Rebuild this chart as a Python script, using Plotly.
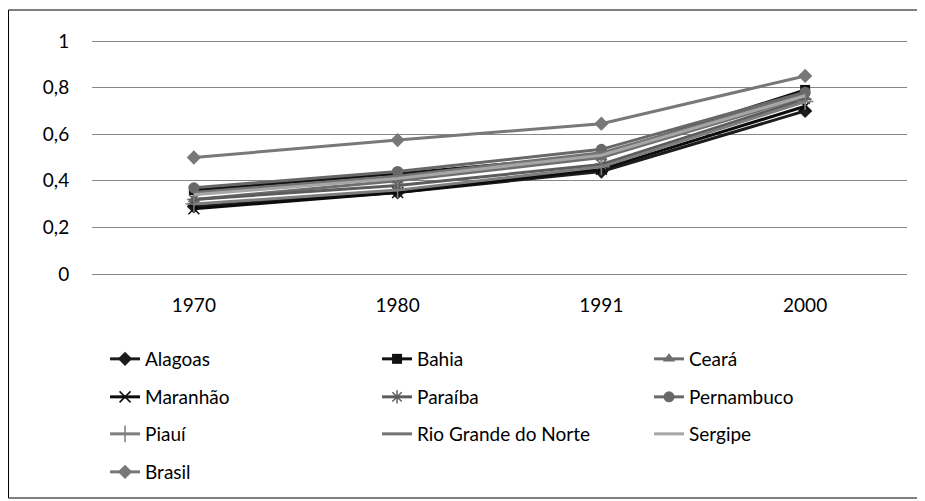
import plotly.graph_objects as go

years = ["1970", "1980", "1991", "2000"]

alagoas = [0.29, 0.35, 0.44, 0.70]
bahia = [0.36, 0.43, 0.51, 0.79]
ceara = [0.32, 0.40, 0.50, 0.76]
maranhao = [0.28, 0.35, 0.45, 0.72]
paraiba = [0.32, 0.38, 0.47, 0.75]
pernambuco = [0.37, 0.44, 0.535, 0.78]
piaui = [0.30, 0.36, 0.46, 0.74]
rio_grande_do_norte = [0.35, 0.42, 0.52, 0.77]
sergipe = [0.34, 0.41, 0.51, 0.765]
brasil = [0.50, 0.575, 0.645, 0.85]

y_ticks = [0, 0.2, 0.4, 0.6, 0.8, 1]

series = [
    ("Alagoas", alagoas, "#1c1c1c", "diamond", 11, "legend"),
    ("Bahia", bahia, "#111111", "square", 10, "legend"),
    ("Ceará", ceara, "#6e6e6e", "triangle-up", 11, "legend"),
    ("Maranhão", maranhao, "#0c0c0c", "x-thin", 11, "legend2"),
    ("Paraíba", paraiba, "#5c5c5c", "asterisk", 11, "legend2"),
    ("Pernambuco", pernambuco, "#686868", "circle", 11, "legend2"),
    ("Piauí", piaui, "#7e7e7e", "cross-thin", 12, "legend3"),
    ("Rio Grande do Norte", rio_grande_do_norte, "#727272", None, 0, "legend3"),
    ("Sergipe", sergipe, "#a6a6a6", None, 0, "legend3"),
    ("Brasil", brasil, "#787878", "diamond", 11, "legend4"),
]

fig = go.Figure()
for name, vals, color, sym, size, leg in series:
    if sym is None:
        mode = "lines"
        marker = None
    else:
        mode = "lines+markers"
        marker = dict(symbol=sym, size=size, color=color,
                      line=dict(width=1.5 if "thin" in sym or sym == "asterisk" else 0, color=color))
    fig.add_trace(go.Scatter(
        x=years, y=vals, name=name, mode=mode,
        line=dict(color=color, width=3),
        marker=marker, legend=leg,
    ))

font = dict(family="Lato, Calibri, Carlito, sans-serif", size=19, color="#000000")

# page body has an 8px margin: figure is laid out in its own coordinates
W, H = 917, 493
PAD = 2  # extra pixels so the 0 and 1 gridlines are not clipped at the edges
L, T, PW, PH = 84, 33 - PAD, 815, 233 + 2 * PAD
R = W - L - PW
B = H - T - PH
yr_pad = PAD / 233


def py(y_px):
    # figure pixel row -> paper coordinate
    return (T + PH - y_px) / PH


def px(x_px):
    return (x_px - L) / PW


def leg(yc):
    return dict(orientation="h", x=0.016, xanchor="left", y=py(yc), yanchor="middle",
                entrywidth=227, entrywidthmode="pixels", font=font,
                bgcolor="rgba(0,0,0,0)", traceorder="normal")

fig.update_layout(
    width=W, height=H,
    margin=dict(l=L, r=R, t=T, b=B, autoexpand=False),
    paper_bgcolor="white", plot_bgcolor="white",
    separators=",.",
    font=font,
    showlegend=True,
    legend=leg(351),
    legend2=leg(389),
    legend3=leg(426),
    legend4=leg(464),
    xaxis=dict(type="category", range=[-0.5, 3.5], showgrid=False, zeroline=False,
               showline=False, ticks="outside", ticklen=12, tickcolor="rgba(0,0,0,0)",
               tickfont=font),
    yaxis=dict(range=[-yr_pad, 1 + yr_pad], tickvals=y_ticks, showgrid=True,
               gridcolor="#878787", gridwidth=1, zeroline=False, showline=False,
               ticks="outside", ticklen=18, tickcolor="rgba(0,0,0,0)", tickfont=font),
    shapes=[dict(type="rect", xref="paper", yref="paper",
                 x0=px(0.5), x1=px(913), y0=py(490), y1=py(2),
                 line=dict(color="#000000", width=1), fillcolor="rgba(0,0,0,0)",
                 layer="below")],
)

fig.write_html("out.html")
